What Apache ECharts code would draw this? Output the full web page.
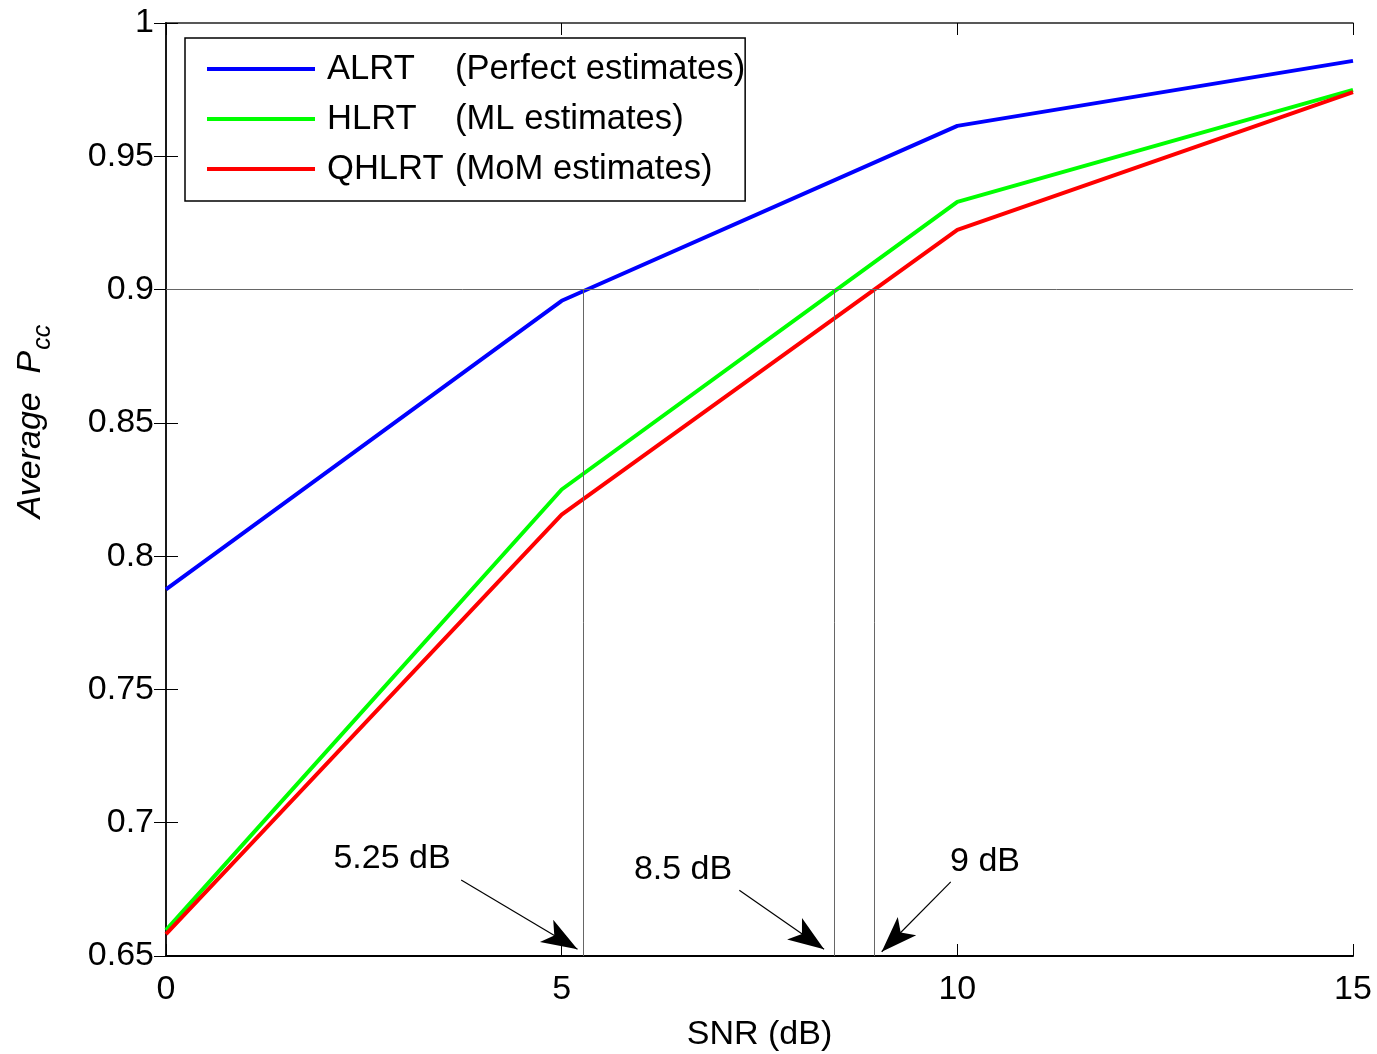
<!DOCTYPE html>
<html>
<head>
<meta charset="utf-8">
<script src="https://cdn.jsdelivr.net/npm/echarts@6/dist/echarts.min.js"></script>
<style>html,body{margin:0;padding:0;background:#fff}#c{width:1377px;height:1054px}</style>
</head>
<body>
<div id="c"></div>
<script>
const snr = [0, 5, 10, 15];
const alrt = [0.7875, 0.8958, 0.9614, 0.9858];
const hlrt = [0.6597, 0.8250, 0.9329, 0.9749];
const qhlrt = [0.6582, 0.8156, 0.9224, 0.9741];
const seriesNames = ['ALRT', 'HLRT', 'QHLRT'];
const seriesDesc = ['(Perfect estimates)', '(ML estimates)', '(MoM estimates)'];
const refLevel = 0.9;
const crossSNR = [5.27, 8.45, 8.95];
const annoText = ['5.25 dB', '8.5 dB', '9 dB'];
const annoTextPos = [[2.856, 0.6865], [6.534, 0.6825], [10.35, 0.6855]];
const arrowStart = [[3.73, 0.6785], [7.245, 0.6747], [9.917, 0.6778]];
const arrowEnd = [[5.2, 0.6525], [8.316, 0.6525], [9.044, 0.6516]];
const yMin = 0.65, yMax = 1, yStep = 0.05;
const xMin = 0, xMax = 15, xStep = 5;

const FONT = 'Liberation Sans, Arial, sans-serif';
const ARROW = 'path://M13,0 L26,36 L13,27 L0,36 Z';
const chart = echarts.init(document.getElementById('c'));
const pair = (a, b) => a.map((v, i) => [v, b[i]]);

const refLines = [
  [{coord: [xMin, refLevel]}, {coord: [xMax, refLevel]}]
].concat(crossSNR.map(x => [{coord: [x, yMin]}, {coord: [x, refLevel]}]));
const arrows = arrowStart.map((s, i) => [
  {coord: s, symbol: 'none'},
  {coord: arrowEnd[i], symbol: ARROW, symbolSize: [26, 36], symbolOffset: [0, 18]}
]);

const axisCommon = {
  type: 'value',
  axisLine: {show: true, lineStyle: {color: '#000', width: 2}},
  axisTick: {show: true, inside: true, length: 12, lineStyle: {color: '#000', width: 1}},
  splitLine: {show: false}
};

chart.setOption({
  animation: false,
  backgroundColor: '#fff',
  textStyle: {fontFamily: FONT},
  grid: {left: 166, right: 24, top: 23, bottom: 98, outerBoundsMode: 'none', containLabel: false},
  legend: {
    orient: 'vertical',
    left: 185, top: 38,
    padding: [11, 0, 12, 22],
    itemGap: 10,
    icon: 'rect',
    itemWidth: 108, itemHeight: 4,
    borderColor: '#000', borderWidth: 1.5,
    backgroundColor: '#fff',
    data: seriesNames,
    formatter: name => '{a|' + name + '}{b|' + seriesDesc[seriesNames.indexOf(name)] + '}',
    textStyle: {
      fontFamily: FONT, fontSize: 34.6, color: '#000', lineHeight: 40,
      rich: {
        a: {fontFamily: FONT, fontSize: 34.6, color: '#000', width: 128, padding: [0, 0, 0, 7], lineHeight: 40},
        b: {fontFamily: FONT, fontSize: 34.6, color: '#000', lineHeight: 40}
      }
    }
  },
  xAxis: [
    Object.assign({}, axisCommon, {
      min: xMin, max: xMax, interval: xStep, position: 'bottom',
      name: 'SNR (dB)', nameLocation: 'middle', nameGap: 62,
      nameTextStyle: {fontFamily: FONT, fontSize: 34, color: '#000'},
      axisLabel: {fontFamily: FONT, fontSize: 34, color: '#000', margin: 17}
    }),
    Object.assign({}, axisCommon, {
      min: xMin, max: xMax, interval: xStep, position: 'top',
      axisLine: {show: true, lineStyle: {color: '#222', width: 1.5}},
      axisLabel: {show: false}
    })
  ],
  yAxis: [
    Object.assign({}, axisCommon, {
      min: yMin, max: yMax, interval: yStep, position: 'left',
      name: '{a|Average  }{p|P}{s|cc}', nameLocation: 'middle', nameGap: 118,
      nameTextStyle: {
        fontFamily: FONT, fontSize: 34, color: '#000', fontStyle: 'italic',
        padding: [0, 0, 0, 136],
        rich: {
          a: {fontFamily: FONT, fontSize: 34, fontStyle: 'italic', color: '#000', verticalAlign: 'bottom', lineHeight: 40},
          p: {fontFamily: FONT, fontSize: 34, fontStyle: 'italic', color: '#000', verticalAlign: 'bottom', lineHeight: 40},
          s: {fontFamily: FONT, fontSize: 25, fontStyle: 'italic', color: '#000', verticalAlign: 'bottom', lineHeight: 40, padding: [0, 0, -8, 1]}
        }
      },
      axisLabel: {fontFamily: FONT, fontSize: 34, color: '#000', margin: 12}
    }),
    Object.assign({}, axisCommon, {
      min: yMin, max: yMax, interval: yStep, position: 'right',
      axisLine: {show: true, lineStyle: {color: '#222', width: 1.5}},
      axisLabel: {show: false}
    })
  ],
  series: [
    {
      name: 'refs', type: 'line', data: [], silent: true,
      markLine: {
        silent: true, symbol: ['none', 'none'], label: {show: false},
        lineStyle: {color: '#666', width: 1, type: 'solid'},
        emphasis: {disabled: true},
        data: refLines
      }
    },
    {
      name: seriesNames[0], type: 'line', data: pair(snr, alrt), symbol: 'none',
      lineStyle: {color: '#0000ff', width: 4}, itemStyle: {color: '#0000ff'}
    },
    {
      name: seriesNames[1], type: 'line', data: pair(snr, hlrt), symbol: 'none',
      lineStyle: {color: '#00ff00', width: 4}, itemStyle: {color: '#00ff00'}
    },
    {
      name: seriesNames[2], type: 'line', data: pair(snr, qhlrt), symbol: 'none',
      lineStyle: {color: '#ff0000', width: 4}, itemStyle: {color: '#ff0000'}
    },
    {
      name: 'arrows', type: 'line', data: [], silent: true,
      markLine: {
        silent: true, label: {show: false},
        lineStyle: {color: '#000', width: 1.2, type: 'solid'},
        itemStyle: {color: '#000'},
        emphasis: {disabled: true},
        data: arrows
      }
    },
    {
      name: 'annotations', type: 'scatter', silent: true, symbolSize: 1,
      itemStyle: {opacity: 0},
      data: annoTextPos.map((p, i) => ({value: p, name: annoText[i]})),
      label: {
        show: true, position: 'inside', formatter: p => p.name, opacity: 1,
        fontFamily: FONT, fontSize: 34, color: '#000'
      }
    }
  ]
});
</script>
</body>
</html>
